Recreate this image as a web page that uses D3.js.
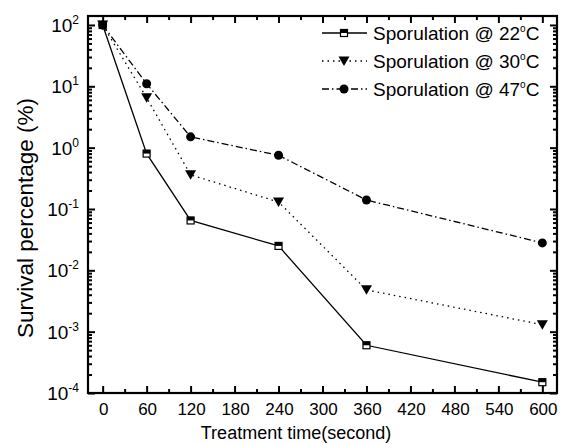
<!DOCTYPE html>
<html>
<head>
<meta charset="utf-8">
<script src="https://cdn.jsdelivr.net/npm/d3@7"></script>
<style>
  body { margin: 0; background: #fff; }
  svg { display: block; font-family: "Liberation Sans", Arial, sans-serif; }
  .axis path, .axis line { stroke: #000; }
</style>
</head>
<body>
<div id="chart"></div>
<script>
//
// Data
//
var times = [0, 60, 120, 240, 360, 600];
var s22 = [100, 0.8, 0.065, 0.025, 0.0006, 0.00015];
var s30 = [100, 6.5, 0.36, 0.13, 0.0048, 0.0013];
var s47 = [100, 11, 1.5, 0.75, 0.14, 0.028];
var seriesNames = ["Sporulation @ 22", "Sporulation @ 30", "Sporulation @ 47"];
var xTicks = [0, 60, 120, 180, 240, 300, 360, 420, 480, 540, 600];
var yExps = [-4, -3, -2, -1, 0, 1, 2];

var W = 564, H = 445;
var pLeft = 88, pRight = 557, pTop = 16, pBottom = 393;

var x = d3.scaleLinear().domain([-20, 620]).range([pLeft, pRight]);
var y = d3.scaleLog().domain([1e-4, 140]).range([pBottom, pTop]);

var svg = d3.select("#chart").append("svg")
    .attr("width", W)
    .attr("height", H);

// minor tick values
var xMinor = d3.range(30, 600, 60);
var yMinor = [];
yExps.forEach(function(e) {
    for (var k = 2; k <= 9; k++) {
        var v = k * Math.pow(10, e);
        if (v < 140) yMinor.push(v);
    }
});
var yMajor = yExps.map(function(e) { return Math.pow(10, e); });

function drawAxis(axisFn, scale, vals, size, tx, ty) {
    var g = svg.append("g")
        .attr("class", "axis")
        .attr("transform", "translate(" + tx + "," + ty + ")")
        .call(axisFn(scale).tickValues(vals).tickSizeInner(size).tickSizeOuter(0).tickFormat(""));
    g.select(".domain").remove();
    g.selectAll("line").attr("stroke-width", 2);
    return g;
}

// inward ticks on all four sides
drawAxis(d3.axisBottom, x, xTicks, -7, 0, pBottom);
drawAxis(d3.axisBottom, x, xMinor, -4, 0, pBottom);
drawAxis(d3.axisTop, x, xTicks, -7, 0, pTop);
drawAxis(d3.axisTop, x, xMinor, -4, 0, pTop);
drawAxis(d3.axisLeft, y, yMajor, -7, pLeft, 0);
drawAxis(d3.axisLeft, y, yMinor, -4, pLeft, 0);
drawAxis(d3.axisRight, y, yMajor, -7, pRight, 0);
drawAxis(d3.axisRight, y, yMinor, -4, pRight, 0);

// frame
svg.append("rect")
    .attr("x", pLeft)
    .attr("y", pTop)
    .attr("width", pRight - pLeft)
    .attr("height", pBottom - pTop)
    .attr("fill", "none")
    .attr("stroke", "#000")
    .attr("stroke-width", 2.2);

// x tick labels
svg.append("g").selectAll("text")
    .data(xTicks)
    .enter().append("text")
    .attr("x", function(d) { return x(d) + 1; })
    .attr("y", 415)
    .attr("text-anchor", "middle")
    .attr("font-size", 17)
    .text(function(d) { return d; });

// y tick labels 10^n
var ylab = svg.append("g").selectAll("text")
    .data(yExps)
    .enter().append("text")
    .attr("x", 79)
    .attr("y", function(d) { return y(Math.pow(10, d)) + 7; })
    .attr("text-anchor", "end")
    .attr("font-size", 19);
ylab.append("tspan").text("10");
ylab.append("tspan")
    .attr("dy", -8)
    .attr("font-size", 12)
    .text(function(d) { return d; });

// axis titles
svg.append("text")
    .attr("x", 296)
    .attr("y", 439)
    .attr("text-anchor", "middle")
    .attr("font-size", 18)
    .text("Treatment time(second)");

svg.append("text")
    .attr("transform", "translate(33,218) rotate(-90)")
    .attr("text-anchor", "middle")
    .attr("font-size", 22.5)
    .text("Survival percentage (%)");

// series
var series = [
    {name: seriesNames[0], vals: s22, dash: null, marker: "square"},
    {name: seriesNames[1], vals: s30, dash: "1.5,4", marker: "triangle"},
    {name: seriesNames[2], vals: s47, dash: "7,3,1.5,3", marker: "circle"}
];

var line = d3.line()
    .x(function(d) { return x(d[0]); })
    .y(function(d) { return y(d[1]); });

function drawMarker(g, type, cx, cy) {
    if (type == "square") {
        g.append("rect")
            .attr("x", cx - 3.5).attr("y", cy - 3.5)
            .attr("width", 7).attr("height", 7)
            .attr("fill", "#fff").attr("stroke", "#000").attr("stroke-width", 1.2);
        g.append("rect")
            .attr("x", cx - 3.5).attr("y", cy - 3.5)
            .attr("width", 7).attr("height", 3.5)
            .attr("fill", "#000");
    } else if (type == "triangle") {
        g.append("path")
            .attr("d", "M" + (cx - 5.5) + "," + (cy - 4.5) + "L" + (cx + 5.5) + "," + (cy - 4.5) + "L" + cx + "," + (cy + 5) + "Z")
            .attr("fill", "#000");
    } else {
        g.append("circle")
            .attr("cx", cx).attr("cy", cy).attr("r", 4.5)
            .attr("fill", "#000");
    }
}

series.forEach(function(s) {
    var pts = times.map(function(t, i) { return [t, s.vals[i]]; });
    svg.append("path")
        .datum(pts)
        .attr("d", line)
        .attr("fill", "none")
        .attr("stroke", "#000")
        .attr("stroke-width", 1.3)
        .attr("stroke-dasharray", s.dash);
    var g = svg.append("g");
    pts.forEach(function(p) {
        drawMarker(g, s.marker, x(p[0]), y(p[1]));
    });
});

// legend
var legend = svg.append("g");
series.forEach(function(s, i) {
    var ly = 33 + i * 28;
    legend.append("line")
        .attr("x1", 322).attr("x2", 367)
        .attr("y1", ly).attr("y2", ly)
        .attr("stroke", "#000")
        .attr("stroke-width", 1.3)
        .attr("stroke-dasharray", s.dash);
    drawMarker(legend, s.marker, 344, ly);
    var t = legend.append("text")
        .attr("x", 373)
        .attr("y", ly + 7)
        .attr("font-size", 19);
    t.append("tspan").text(s.name);
    t.append("tspan").attr("dy", -8).attr("font-size", 10).text("o");
    t.append("tspan").attr("dy", 8).text("C");
});
</script>
</body>
</html>
